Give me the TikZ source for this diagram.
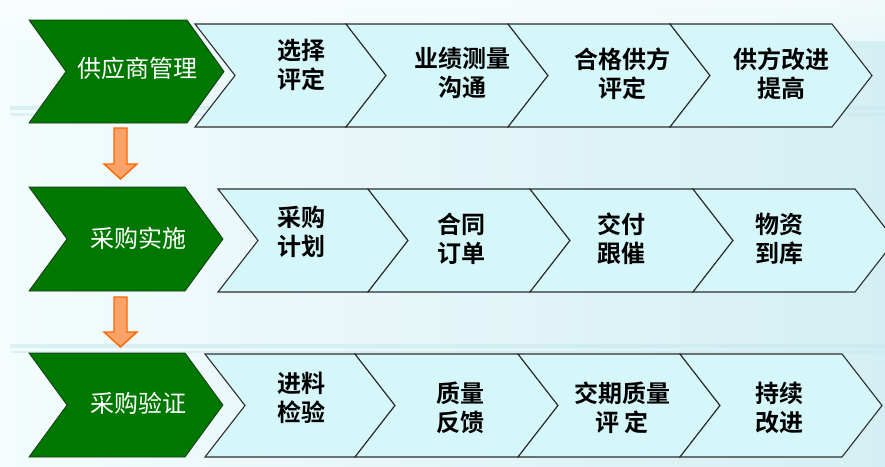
\documentclass[tikz,border=0pt]{standalone}
\usepackage{fontspec}
\newfontfamily\cjk{Noto Sans CJK SC}[BoldFont={Noto Sans CJK SC Bold}]
\usetikzlibrary{calc}
\definecolor{bgA}{RGB}{244,252,253}
\definecolor{bgB}{RGB}{212,239,243}
\definecolor{band}{RGB}{200,232,238}
\definecolor{gfill}{RGB}{0,120,0}
\definecolor{gline}{RGB}{20,60,20}
\definecolor{lfill}{RGB}{214,247,249}
\definecolor{lline}{RGB}{45,45,45}
\definecolor{ofill}{RGB}{250,162,104}
\definecolor{oline}{RGB}{255,102,0}
\tikzset{
  gchev/.style={fill=gfill,draw=gline,line width=0.8pt},
  lchev/.style={fill=lfill,draw=lline,line width=1.1pt,line join=miter},
  gtxt/.style={text=white,font=\cjk\fontsize{24}{28}\selectfont,inner sep=0pt},
  ltxt/.style={text=black,align=center,font=\cjk\bfseries\fontsize{24}{29}\selectfont,inner sep=0pt},
  oarrow/.style={fill=ofill,draw=oline,line width=1.4pt,line join=miter}
}
% chevron: #1 style, #2 x left, #3 x right, #4 y top, #5 y bottom, #6 depth
\newcommand{\Chev}[6]{%
  \path[#1] (#2,#4) -- (#3,#4) -- ({#3+#6},{(#4+#5)/2}) -- (#3,#5) -- (#2,#5) -- ({#2+#6},{(#4+#5)/2}) -- cycle;}
\newcommand{\OrArrow}[2]{% from coordinate #1 (top) to coordinate #2 (tip)
  \path[oarrow] let \p1=(#1), \p2=(#2) in
    (\x1-6.5pt,\y1) -- (\x1+6.5pt,\y1) -- (\x1+6.5pt,\y2+15pt) -- (\x1+16.5pt,\y2+15pt)
    -- (\x2,\y2) -- (\x1-16.5pt,\y2+15pt) -- (\x1-6.5pt,\y2+15pt) -- cycle;}
\begin{document}
\begin{tikzpicture}[x=1pt,y=-1pt]
\useasboundingbox (0,0) rectangle (885,466);
\begin{scope}
\clip (0,0) rectangle (885,466);
\shade[left color=bgA,right color=bgB] (0,0) rectangle (885,466);
\shade[top color=white,bottom color=bgA,opacity=0.7] (0,0) rectangle (885,40);
\fill[band,opacity=0.6] (10,106) rectangle (885,110);
\fill[band,opacity=0.5] (10,113) rectangle (885,116);
\fill[band,opacity=0.6] (10,344) rectangle (885,348);
\fill[band,opacity=0.5] (10,351) rectangle (885,353);
% row 1
\Chev{lchev}{195}{346}{24}{127}{40}
\Chev{lchev}{346}{508}{24}{127}{40}
\Chev{lchev}{508}{670}{24}{127}{40}
\Chev{lchev}{670}{832}{24}{127}{40}
\Chev{gchev}{29}{187}{20}{123}{37}
% row 2
\Chev{lchev}{218}{368}{189}{292}{40}
\Chev{lchev}{368}{530}{189}{292}{40}
\Chev{lchev}{530}{693}{189}{292}{40}
\Chev{lchev}{693}{855}{189}{292}{40}
\Chev{gchev}{29}{185}{187}{291}{38}
% row 3
\Chev{lchev}{205}{355}{354}{457}{40}
\Chev{lchev}{355}{518}{354}{457}{40}
\Chev{lchev}{518}{680}{354}{457}{40}
\Chev{lchev}{680}{842}{354}{457}{40}
\Chev{gchev}{29}{185}{353}{457}{38}
\end{scope}
% green labels
\node[gtxt] (g1) at (137,68) {供应商管理};
\node[gtxt] (g2) at (138,238) {采购实施};
\node[gtxt] (g3) at (138,403) {采购验证};
% row 1 labels
\node[ltxt] (a1) at (301,65) {选择\\评定};
\node[ltxt] (a2) at (462,73) {业绩测量\\沟通};
\node[ltxt] (a3) at (622,74) {合格供方\\评定};
\node[ltxt] (a4) at (781,74) {供方改进\\提高};
% row 2 labels
\node[ltxt] (b1) at (301,232) {采购\\计划};
\node[ltxt] (b2) at (461,239) {合同\\订单};
\node[ltxt] (b3) at (621,239) {交付\\跟催};
\node[ltxt] (b4) at (779,239) {物资\\到库};
% row 3 labels
\node[ltxt] (c1) at (301,398) {进料\\检验};
\node[ltxt] (c2) at (460,408) {质量\\反馈};
\node[ltxt] (c3) at (622,408) {交期质量\\评\ 定};
\node[ltxt] (c4) at (779,408) {持续\\改进};
% orange arrows
\coordinate (o1s) at (120.5,128);
\coordinate (o1e) at (120.5,179);
\coordinate (o2s) at (120.5,297);
\coordinate (o2e) at (120.5,347);
\OrArrow{o1s}{o1e}
\OrArrow{o2s}{o2e}
\end{tikzpicture}
\end{document}
